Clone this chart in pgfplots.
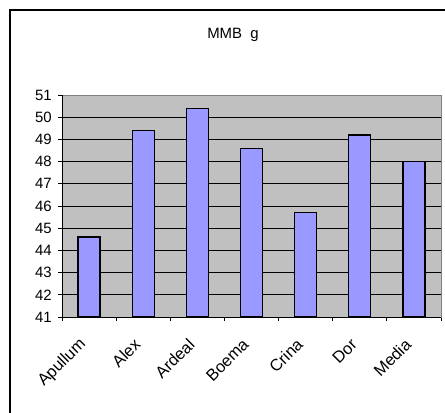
\documentclass[border=0pt]{standalone}
\usepackage{pgfplots}
\pgfplotsset{compat=1.18}
\usepackage{fontspec}
\setmainfont{Liberation Sans}
\definecolor{barfill}{HTML}{9999FF}
\definecolor{plotbg}{HTML}{C0C0C0}
\definecolor{boxgray}{HTML}{808080}
\begin{document}
\begin{tikzpicture}[x=1bp,y=1bp]
\useasboundingbox (-62,-95) rectangle (383,317);
\draw[line width=1.5bp] (-52,-100) -- (-52,307) -- (390,307);
\node[font=\fontsize{15}{18}\selectfont] at (171,282) {MMB\ \ g};
\begin{axis}[
  at={(0,0)}, anchor=south west, scale only axis,
  width=379bp, height=222bp,
  xmin=-0.5, xmax=6.5, ymin=41, ymax=51,
  ytick={41,...,51},
  xtick={-0.5,0.5,...,6.5},
  x tick label as interval,
  xticklabels={Apullum,Alex,Ardeal,Boema,Crina,Dor,Media},
  xtick pos=lower, ytick pos=left,
  tick align=outside, major tick length=4bp,
  tick style={black, line width=0.8bp},
  ymajorgrids, grid style={black, line width=0.8bp},
  axis background/.style={fill=plotbg},
  axis line style={draw=boxgray, line width=0.8bp},
  /pgf/number format/assume math mode=true,
  ticklabel style={font=\fontsize{15}{18}\selectfont},
  x tick label style={font=\fontsize{16.5}{19}\selectfont, xshift=-5bp, yshift=-20bp, rotate=45, anchor=east, inner sep=1bp},
  y tick label style={inner sep=1bp, xshift=-5bp},
]
\addplot[ybar, bar width=22bp, fill=barfill, draw=black, line width=1.2bp]
  coordinates {(0,44.6) (1,49.4) (2,50.4) (3,48.6) (4,45.7) (5,49.2) (6,48.0)};
\draw[boxgray, line width=0.8bp] (rel axis cs:0,1) -- (rel axis cs:1,1) -- (rel axis cs:1,0);
\draw[black, line width=1bp] (rel axis cs:0,1) -- (rel axis cs:0,0) -- (rel axis cs:1,0);
\end{axis}
\end{tikzpicture}
\end{document}
